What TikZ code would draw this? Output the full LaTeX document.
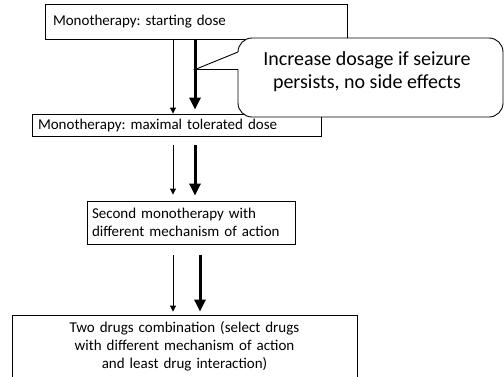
\documentclass[tikz,border=0pt]{standalone}
\usepackage{fontspec}
\setmainfont{Carlito}
\frenchspacing
\usetikzlibrary{arrows.meta}
\tikzset{
  boxnode/.style={draw, line width=0.9pt, inner ysep=0pt, font=\fontsize{15}{18}\selectfont},
  thinarrow/.style={line width=1pt, -{Triangle[length=6pt,width=6pt]}},
  thickarrow/.style={line width=3pt, -{Triangle[length=12pt,width=11pt]}},
  calloutbox/.style={draw, line width=0.9pt, fill=white, rounded corners=14pt},
  callouttext/.style={font=\fontsize{20}{23}\selectfont, align=center, inner sep=0pt}
}
\begin{document}
\begin{tikzpicture}[x=1pt,y=-1pt]
\useasboundingbox (0,0) rectangle (504,376);
% boxes
\node[boxnode, minimum width=302pt, minimum height=35pt, text width=286pt, inner xsep=8pt, align=left]
  (b1) at (196,21.5) {Monotherapy: starting dose};
\node[boxnode, minimum width=289pt, minimum height=22pt, text width=277pt, inner xsep=6pt, align=left]
  (b2) at (176.5,125) {Monotherapy: maximal tolerated dose};
\node[boxnode, minimum width=208pt, minimum height=43pt, text width=198pt, inner xsep=5pt, align=left]
  (b3) at (191,222.5) {Second monotherapy with\\different mechanism of action};
\node[boxnode, minimum width=345pt, minimum height=63pt, text width=335pt, inner xsep=5pt, align=center]
  (b4) at (184.5,346.5) {Two drugs combination (select drugs\\with different mechanism of action\\and least drug interaction)};
% arrow columns
\coordinate (xa) at (173,0);
\coordinate (xb) at (195,0);
\coordinate (xc) at (200,0);
\draw[thinarrow] (b1.south -| xa) -- (b2.north -| xa);
\draw[thickarrow, shorten >=4pt] (b1.south -| xb) -- (b2.north -| xb);
\draw[thinarrow, shorten <=9pt, shorten >=6pt] (b2.south -| xa) -- (b3.north -| xa);
\draw[thickarrow, shorten <=9pt, shorten >=5pt] (b2.south -| xb) -- (b3.north -| xb);
\draw[thinarrow, shorten <=11pt, shorten >=3pt] (b3.south -| xa) -- (b4.north -| xa);
\draw[thickarrow, shorten <=11pt, shorten >=3pt] (b3.south -| xc) -- (b4.north -| xc);
% callout
\node[calloutbox, minimum width=265pt, minimum height=79pt] (co) at (370.5,77.5) {};
\coordinate (tip) at (195,69.5);
\coordinate (pa) at (238,52);
\coordinate (pb) at (238,69.5);
\fill[white] (tip) -- (pa) -- ([xshift=1.5pt]pa) -- ([xshift=1.5pt]pb) -- (pb) -- cycle;
\draw[line width=0.9pt] (pa) -- (tip) -- (pb);
\node[callouttext] (cotext) at (367,72) {Increase dosage if seizure\\persists, no side effects};
\end{tikzpicture}
\end{document}
